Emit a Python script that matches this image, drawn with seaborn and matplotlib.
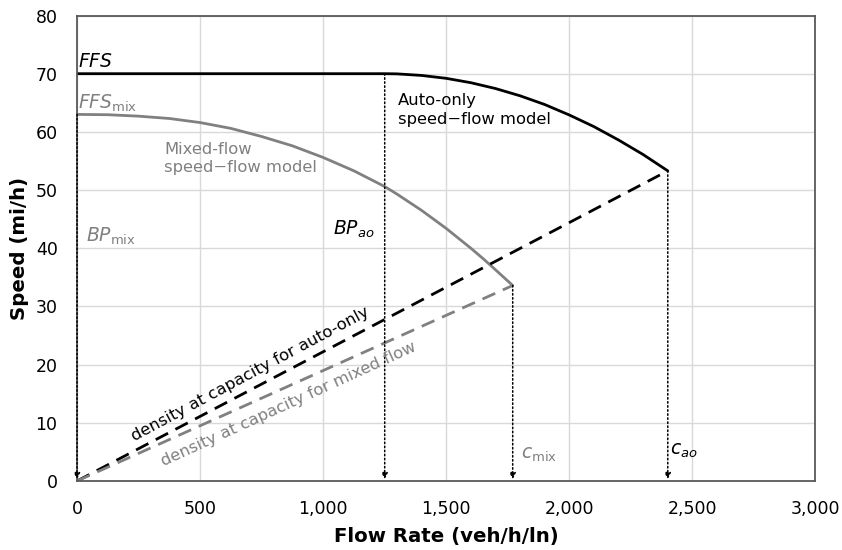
import numpy as np
import pandas as pd
import matplotlib
matplotlib.use("Agg")
import matplotlib.pyplot as plt
import seaborn as sns

# values
ao_flow = [0, 250, 500, 750, 1000, 1250, 1300, 1400, 1500, 1600, 1700, 1800,
           1900, 2000, 2100, 2200, 2300, 2400]
ao_speed = [70, 70, 70, 70, 70, 70, 69.97, 69.7, 69.2, 68.45, 67.45, 66.2,
            64.7, 62.9, 60.9, 58.6, 56.1, 53.3]
mix_flow = [0, 125, 250, 375, 500, 625, 750, 875, 1000, 1125, 1250, 1300, 1400,
            1500, 1550, 1600, 1650, 1700, 1770]
mix_speed = [63, 62.95, 62.7, 62.3, 61.6, 60.6, 59.2, 57.6, 55.6, 53.3, 50.6, 49.3, 46.5,
             43.4, 41.7, 40.0, 38.2, 36.3, 33.6]

ffs_ao, ffs_mix = 70, 63
bp_ao, bp_mix = 1250, 0
cap_ao, cap_mix = 2400, 1770
s_cap_ao, s_cap_mix = 53.3, 33.6

x_ticks = [0, 500, 1000, 1500, 2000, 2500, 3000]
y_ticks = [0, 10, 20, 30, 40, 50, 60, 70, 80]

sns.set_theme(style="white")
plt.rcParams["font.family"] = ["DejaVu Sans"]
plt.rcParams["mathtext.fontset"] = "dejavusans"
plt.rcParams["text.color"] = "black"
plt.rcParams["axes.labelcolor"] = "black"
plt.rcParams["xtick.color"] = "black"
plt.rcParams["ytick.color"] = "black"

black = "#000000"
grey = "#808080"
frame = "#595959"

fig = plt.figure(figsize=(8.42, 5.5), dpi=100)
ax = fig.add_axes([0.0915, 0.1255, 0.877, 0.8463])

ao = pd.DataFrame({"flow": ao_flow, "speed": ao_speed})
mix = pd.DataFrame({"flow": mix_flow, "speed": mix_speed})
sns.lineplot(data=ao, x="flow", y="speed", color=black, lw=2, ax=ax, sort=False)
sns.lineplot(data=mix, x="flow", y="speed", color=grey, lw=2, ax=ax, sort=False)

# density at capacity lines
ax.plot([0, cap_ao], [0, s_cap_ao], color=black, lw=2, ls=(0, (5, 3)))
ax.plot([0, cap_mix], [0, s_cap_mix], color=grey, lw=2, ls=(0, (5, 3)))

# dotted drop lines with arrows
for xv, yv in [(bp_mix, ffs_mix), (bp_ao, ffs_ao), (cap_mix, s_cap_mix), (cap_ao, s_cap_ao)]:
    ax.annotate("", xy=(xv, 0.3), xytext=(xv, yv),
                arrowprops=dict(arrowstyle="-|>", color=black, lw=1.1, ls=":",
                                mutation_scale=9, shrinkA=0, shrinkB=0))

# labels
fs = 11.8
ms = 13.5
ax.text(5, 70.5, r"$\it{FFS}$", fontsize=ms, color=black, ha="left", va="bottom")
ax.text(5, 63.1, r"$\it{FFS}_{\rm mix}$", fontsize=ms, color=grey, ha="left", va="bottom")
ax.text(35, 42, r"$\it{BP}_{\rm mix}$", fontsize=ms, color=grey, ha="left", va="center")
ax.text(1040, 43.3, r"$\it{BP}_{ao}$", fontsize=ms, color=black, ha="left", va="center")
ax.text(1805, 4.6, r"$\it{c}_{\rm mix}$", fontsize=ms, color=grey, ha="left", va="center")
ax.text(2410, 5.3, r"$\it{c}_{ao}$", fontsize=ms, color=black, ha="left", va="center")
ax.text(1305, 66.6, "Auto-only\nspeed\u2212flow model", fontsize=fs, color=black,
        ha="left", va="top", linespacing=1.3)
ax.text(355, 58.3, "Mixed-flow\nspeed\u2212flow model", fontsize=fs, color=grey,
        ha="left", va="top", linespacing=1.3)
ax.text(705, 18.4, "density at capacity for auto-only", fontsize=fs, color=black,
        rotation=28.2, rotation_mode="anchor", ha="center", va="center")
ax.text(860, 13.2, "density at capacity for mixed flow", fontsize=fs, color=grey,
        rotation=24.6, rotation_mode="anchor", ha="center", va="center")

ax.set_xlim(0, 3000)
ax.set_ylim(0, 80)
ax.set_xticks(x_ticks)
ax.set_yticks(y_ticks)
ax.set_xticklabels([f"{v:,}" for v in x_ticks], fontsize=12.5)
ax.set_yticklabels([str(v) for v in y_ticks], fontsize=12.5)
ax.tick_params(axis="x", pad=14, length=0)
ax.tick_params(axis="y", pad=14, length=0)
ax.grid(True, color="#d9d9d9", lw=1)
for s in ax.spines.values():
    s.set_visible(True)
    s.set_color(frame)
    s.set_linewidth(1.3)
ax.set_xlabel("Flow Rate (veh/h/ln)", fontsize=14.2, fontweight="bold", labelpad=6)
ax.set_ylabel("Speed (mi/h)", fontsize=14.2, fontweight="bold", labelpad=5)

fig.savefig("out.png", dpi=100)
